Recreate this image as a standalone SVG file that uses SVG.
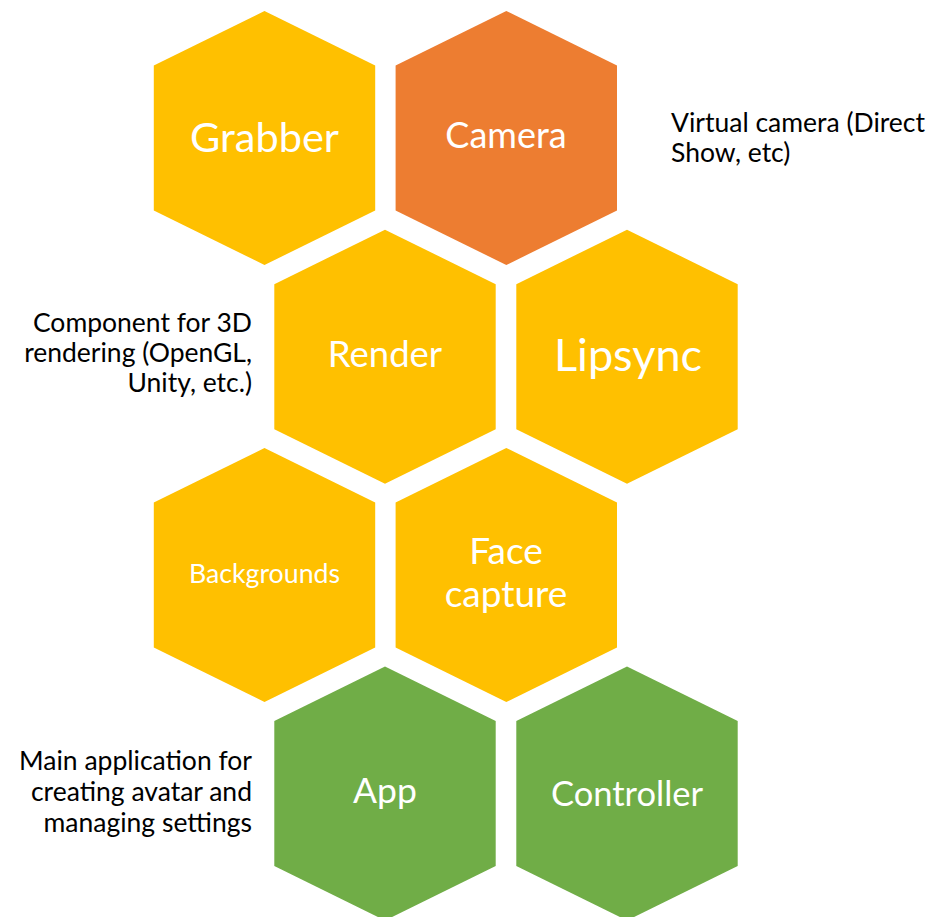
<svg xmlns="http://www.w3.org/2000/svg" width="941" height="917" viewBox="0 0 941 917">
<defs>
<style>
.hex-y{fill:#FFC000}
.hex-o{fill:#ED7D31}
.hex-g{fill:#70AD47}
.lbl{font-family:Lato,"Open Sans","Liberation Sans",sans-serif;fill:#FFFFFF;text-anchor:middle}
.note{font-family:Lato,"Open Sans","Liberation Sans",sans-serif;fill:#000000;font-size:26.5px}
</style>
<path id="hex" d="M0,-127 L110.7,-72.5 L110.7,72.5 L0,127 L-110.7,72.5 L-110.7,-72.5 Z"/>
</defs>
<rect width="941" height="917" fill="#FFFFFF"/>
<g id="connectors"/>
<g id="grabber">
<use href="#hex" x="264.5" y="138" class="hex-y"/>
<text class="lbl" x="264.5" y="152" font-size="41.5">Grabber</text>
</g>
<g id="camera">
<use href="#hex" x="506.3" y="138" class="hex-o"/>
<text class="lbl" x="506" y="148" font-size="36">Camera</text>
</g>
<g id="render">
<use href="#hex" x="385" y="356.7" class="hex-y"/>
<text class="lbl" x="385" y="367" font-size="36.5">Render</text>
</g>
<g id="lipsync">
<use href="#hex" x="627" y="356.7" class="hex-y"/>
<text class="lbl" x="628" y="371" font-size="45">Lipsync</text>
</g>
<g id="backgrounds">
<use href="#hex" x="264.5" y="575" class="hex-y"/>
<text class="lbl" x="264.5" y="583" font-size="26.7">Backgrounds</text>
</g>
<g id="face-capture">
<use href="#hex" x="506.3" y="575" class="hex-y"/>
<text class="lbl" x="506" y="564" font-size="37">Face</text>
<text class="lbl" x="506" y="607" font-size="37">capture</text>
</g>
<g id="app">
<use href="#hex" x="385" y="793.5" class="hex-g"/>
<text class="lbl" x="385" y="803" font-size="35.5">App</text>
</g>
<g id="controller">
<use href="#hex" x="627" y="793.5" class="hex-g"/>
<text class="lbl" x="627" y="806" font-size="34.5">Controller</text>
</g>
<g id="note-camera">
<text class="note" x="671" y="132">Virtual camera (Direct</text>
<text class="note" x="671" y="162">Show, etc)</text>
</g>
<g id="note-render" text-anchor="end">
<text class="note" x="252" y="332">Component for 3D</text>
<text class="note" x="252" y="362">rendering (OpenGL,</text>
<text class="note" x="252" y="392">Unity, etc.)</text>
</g>
<g id="note-app" text-anchor="end">
<text class="note" x="252" y="770">Main application for</text>
<text class="note" x="252" y="801">creating avatar and</text>
<text class="note" x="252" y="832">managing settings</text>
</g>
</svg>
